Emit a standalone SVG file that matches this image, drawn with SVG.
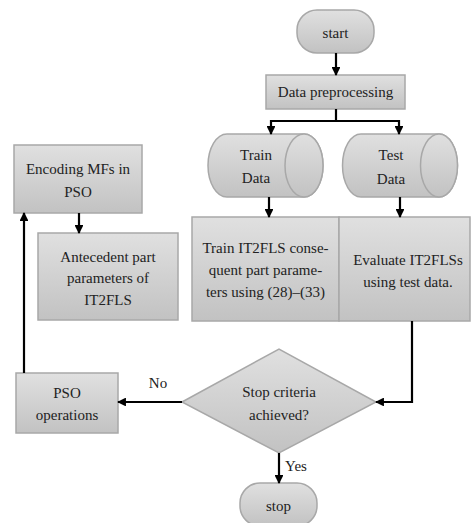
<svg xmlns="http://www.w3.org/2000/svg" width="471" height="523" viewBox="0 0 471 523">
<defs>
<linearGradient id="g" x1="0" y1="0" x2="0" y2="1">
<stop offset="0" stop-color="#e0e0e0"/>
<stop offset="1" stop-color="#c2c2c2"/>
</linearGradient>
<marker id="ah" viewBox="0 0 10 10" refX="9" refY="5" markerWidth="4" markerHeight="4" orient="auto" markerUnits="strokeWidth">
<path d="M0,0 L10,5 L0,10 Z" fill="#000"/>
</marker>
</defs>
<style>
.s{fill:url(#g);stroke:#a8a8a8;stroke-width:1.5}
.t{font-family:"Liberation Serif",serif;font-size:15px;fill:#222;text-anchor:middle}
.c{fill:none;stroke:#000;stroke-width:2.2}
.a{fill:none;stroke:#000;stroke-width:2.2;marker-end:url(#ah)}
</style>
<rect width="471" height="523" fill="#fff"/>
<g id="start"><rect class="s" x="297" y="10" width="77" height="43" rx="20"/><text class="t" x="335.5" y="37.5">start</text></g>
<g id="preprocess"><rect class="s" x="266" y="75" width="139" height="34"/><text class="t" x="335.5" y="97">Data preprocessing</text></g>
<g id="train-data"><path class="s" d="M227,134 L304,134 A19,31.5 0 0 1 304,197 L227,197 A19,31.5 0 0 1 227,134 Z"/><ellipse class="s" cx="304" cy="165.5" rx="19" ry="31.5"/><text class="t" x="256" y="159.5">Train</text><text class="t" x="256" y="183">Data</text></g>
<g id="test-data"><path class="s" d="M361,134 L439,134 A18.5,31.5 0 0 1 439,197 L361,197 A18.5,31.5 0 0 1 361,134 Z"/><ellipse class="s" cx="439" cy="165.5" rx="18.5" ry="31.5"/><text class="t" x="391" y="160">Test</text><text class="t" x="391" y="184">Data</text></g>
<g id="train-box"><rect class="s" x="192" y="217" width="147" height="104"/><text class="t" x="265.5" y="253">Train IT2FLS conse-</text><text class="t" x="265.5" y="275">quent part parame-</text><text class="t" x="265.5" y="297">ters using (28)–(33)</text></g>
<g id="evaluate"><rect class="s" x="339" y="217" width="131" height="104"/><text class="t" x="408" y="265">Evaluate IT2FLSs</text><text class="t" x="408" y="287">using test data.</text></g>
<g id="encoding"><rect class="s" x="14" y="145" width="128" height="68"/><text class="t" x="78" y="174">Encoding MFs in</text><text class="t" x="78" y="196.5">PSO</text></g>
<g id="antecedent"><rect class="s" x="38" y="233" width="140" height="87"/><text class="t" x="108" y="261.5">Antecedent part</text><text class="t" x="108" y="283">parameters of</text><text class="t" x="108" y="304.5">IT2FLS</text></g>
<g id="pso-ops"><rect class="s" x="16" y="373" width="102" height="60"/><text class="t" x="67" y="398">PSO</text><text class="t" x="67" y="420">operations</text></g>
<g id="decision"><path class="s" d="M182,402 L279,349 L376,402 L279,453 Z"/><text class="t" x="279" y="397">Stop criteria</text><text class="t" x="279" y="420">achieved?</text></g>
<g id="stop"><rect class="s" x="240" y="483" width="77" height="43" rx="20"/><text class="t" x="278.5" y="511">stop</text></g>
<g id="connectors">
<path class="a" d="M336,53 L336,75"/>
<path class="c" d="M336,109 L336,121 M271,121 L399,121"/>
<path class="a" d="M271,120 L271,134"/>
<path class="a" d="M399,120 L399,134"/>
<path class="a" d="M269,197 L269,217"/>
<path class="a" d="M400,197 L400,217"/>
<path class="a" d="M79,213 L79,233"/>
<path class="a" d="M24,373 L24,213"/>
<path class="a" d="M182,402 L118,402"/>
<path class="a" d="M412,321 L412,402 L376,402"/>
<path class="a" d="M279,453 L279,483"/>
<text class="t" x="158" y="388">No</text>
<text class="t" x="296" y="471">Yes</text>
</g>
</svg>
